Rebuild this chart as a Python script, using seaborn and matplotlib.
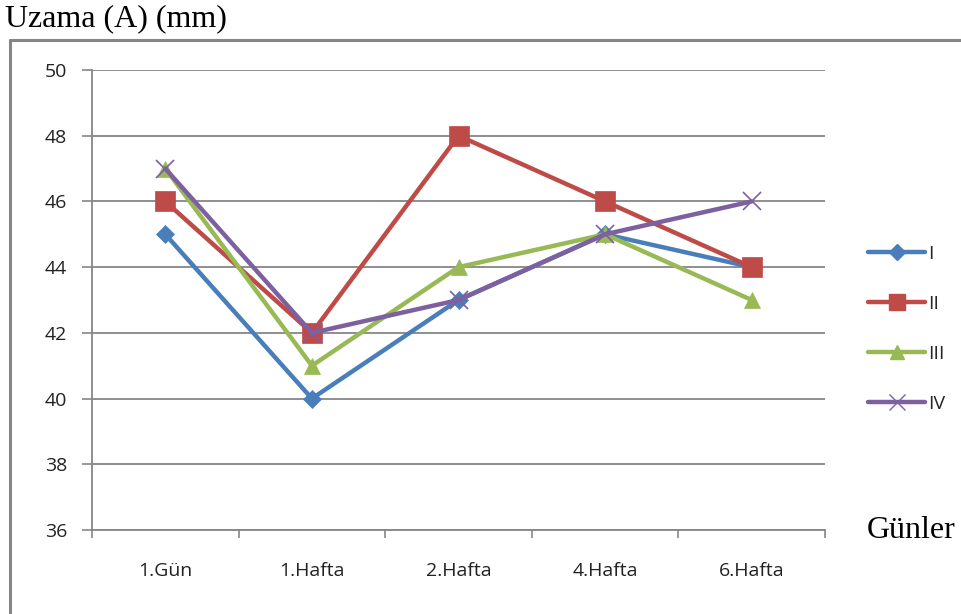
import matplotlib
matplotlib.use("Agg")
import matplotlib.pyplot as plt
import seaborn as sns
import pandas as pd
from matplotlib.lines import Line2D

# Measured elongation values per sample group over time
categories = ["1.Gün", "1.Hafta", "2.Hafta", "4.Hafta", "6.Hafta"]
series_names = ["I", "II", "III", "IV"]
values_I = [45, 40, 43, 45, 44]
values_II = [46, 42, 48, 46, 44]
values_III = [47, 41, 44, 45, 43]
values_IV = [47, 42, 43, 45, 46]
y_ticks = [36, 38, 40, 42, 44, 46, 48, 50]

colors = {"I": "#4A7EBB", "II": "#BE4B48", "III": "#98B954", "IV": "#7D60A0"}
markers = {"I": "D", "II": "s", "III": "^", "IV": "x"}
msizes = {"I": 9, "II": 14, "III": 12, "IV": 13}

rows = []
for name, vals in zip(series_names, [values_I, values_II, values_III, values_IV]):
    for i, v in enumerate(vals):
        rows.append({"pos": i, "value": v, "series": name})
df = pd.DataFrame(rows)

sns.set_style("white")
fig = plt.figure(figsize=(9.62, 6.14), dpi=100)
ax = fig.add_axes([92 / 962, 1 - 530 / 614, (825 - 92) / 962, (530 - 70) / 614])

grid_color = "#868686"
for name in series_names:
    sub = df[df["series"] == name]
    sns.lineplot(data=sub, x="pos", y="value", ax=ax, color=colors[name],
                 linewidth=3.2, marker=markers[name], markersize=msizes[name],
                 markeredgecolor=colors[name], markeredgewidth=1.2 if name == "IV" else 0.5,
                 legend=False, zorder=3)

ax.set_xlim(-0.5, 4.5)
ax.set_ylim(36, 50)
ax.set_yticks(y_ticks)
ax.set_yticklabels([str(t) for t in y_ticks])
ax.set_xticks(range(len(categories)))
ax.set_xticklabels(categories)
ax.set_xticks([i - 0.5 for i in range(len(categories) + 1)], minor=True)
ax.set_xlabel("")
ax.set_ylabel("")

ax.grid(axis="y", color=grid_color, linewidth=1.3, zorder=0)
ax.grid(axis="x", visible=False)
for side in ["top", "right"]:
    ax.spines[side].set_visible(False)
for side in ["left", "bottom"]:
    ax.spines[side].set_color(grid_color)
    ax.spines[side].set_linewidth(1.3)

tick_font = "Open Sans"
ax.tick_params(axis="y", which="major", length=7, width=1.2, color=grid_color,
               pad=11, labelsize=14, labelcolor="#222222", left=True)
ax.tick_params(axis="x", which="major", length=0, pad=23, labelsize=14, labelcolor="#222222")
ax.tick_params(axis="x", which="minor", length=6, width=1.2, color=grid_color, bottom=True)
for lbl in ax.get_xticklabels() + ax.get_yticklabels():
    lbl.set_fontfamily(tick_font)

# Outer frame lines (left and top)
fig.add_artist(Line2D([10 / 962, 10 / 962], [0, 1 - 40 / 614], transform=fig.transFigure,
                      color=grid_color, linewidth=2.2))
fig.add_artist(Line2D([10 / 962, 1], [1 - 40 / 614, 1 - 40 / 614], transform=fig.transFigure,
                      color=grid_color, linewidth=2.2))

fig.text(5 / 962, 1 - 19 / 614, "Uzama (A) (mm)", family="Liberation Serif",
         fontsize=23, ha="left", va="center", color="black")
fig.text(867 / 962, 1 - 531 / 614, "Günler", family="Liberation Serif",
         fontsize=23, ha="left", va="center", color="black")

handles = [Line2D([0], [0], color=colors[n], linewidth=3.2, marker=markers[n],
                  markersize=msizes[n] * 0.85, markeredgecolor=colors[n]) for n in series_names]
leg = fig.legend(handles, series_names, loc="center left",
                 bbox_to_anchor=(851 / 962, 1 - 329 / 614), frameon=False,
                 handlelength=2.9, labelspacing=1.65, handletextpad=0.15,
                 prop={"family": tick_font, "size": 14})

fig.savefig("out.png", dpi=100, facecolor="white")
